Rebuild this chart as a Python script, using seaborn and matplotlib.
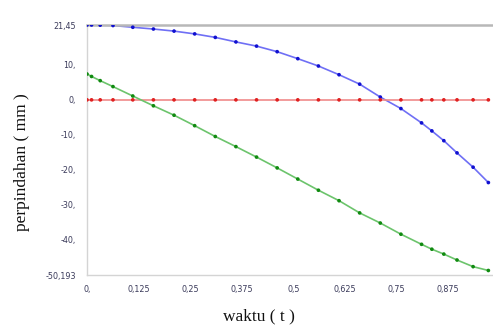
import numpy as np
import pandas as pd
import matplotlib
matplotlib.use("Agg")
import matplotlib.pyplot as plt
import seaborn as sns

t = [0.0, 0.011, 0.032, 0.063, 0.111, 0.161, 0.211, 0.261, 0.311, 0.361, 0.411, 0.461,
     0.511, 0.561, 0.611, 0.661, 0.711, 0.761, 0.811, 0.836, 0.865, 0.897, 0.936, 0.973]
blue = [21.45, 21.45, 21.4, 21.3, 20.8, 20.3, 19.7, 18.9, 17.9, 16.6, 15.4, 13.8,
        11.8, 9.7, 7.2, 4.5, 0.8, -2.5, -6.6, -8.9, -11.7, -15.2, -19.3, -23.7]
red = [0.0] * len(t)
green = [7.4, 6.7, 5.5, 3.8, 1.1, -1.7, -4.4, -7.4, -10.5, -13.4, -16.4, -19.5,
         -22.7, -25.9, -28.9, -32.4, -35.3, -38.5, -41.4, -42.8, -44.2, -45.9, -47.8, -48.9]

yticks = [21.45, 10, 0, -10, -20, -30, -40, -50.193]
ytick_labels = ["21,45", "10,", "0,", "-10,", "-20,", "-30,", "-40,", "-50,193"]
xticks = [0, 0.125, 0.25, 0.375, 0.5, 0.625, 0.75, 0.875, 1.0]
xtick_labels = ["0,", "0,125", "0,25", "0,375", "0,5", "0,625", "0,75", "0,875", "1,"]

df = pd.concat([
    pd.DataFrame({"t": t, "v": blue, "s": "blue"}),
    pd.DataFrame({"t": t, "v": red, "s": "red"}),
    pd.DataFrame({"t": t, "v": green, "s": "green"}),
])

sns.set_style("white")
fig = plt.figure(figsize=(4.93, 3.27), dpi=100)
W, H = 493, 327
ax = fig.add_axes([87 / W, (H - 275) / H, (499.5 - 87) / W, 250 / H])

line_pal = {"blue": "#6f6ff5", "red": "#f08a8a", "green": "#6cc46c"}
dot_pal = {"blue": "#1010d0", "red": "#e02020", "green": "#108a10"}
sns.lineplot(data=df, x="t", y="v", hue="s", palette=line_pal, linewidth=1.2,
             legend=False, ax=ax, estimator=None, sort=True)
sns.scatterplot(data=df, x="t", y="v", hue="s", palette=dot_pal, s=7,
                linewidth=0, legend=False, ax=ax, zorder=5)

ax.set_xlim(0, 1)
ax.set_ylim(-50.193, 21.45)
ax.set_xticks(xticks)
ax.set_xticklabels(xtick_labels)
ax.set_yticks(yticks)
ax.set_yticklabels(ytick_labels)
ax.tick_params(axis="both", labelsize=5.8, colors="#b8b8b8", labelcolor="#3a3a5a",
               length=3, width=0.8, direction="out")
ax.tick_params(axis="y", pad=5)
ax.tick_params(axis="x", pad=4)
for side in ["left", "bottom"]:
    ax.spines[side].set_color("#d4d4d4")
    ax.spines[side].set_linewidth(1.0)
ax.spines["right"].set_visible(False)
ax.spines["top"].set_color("#b8b8b8")
ax.spines["top"].set_linewidth(1.8)
ax.grid(False)
ax.set_xlabel("")
ax.set_ylabel("")

fig.text(259 / W, 1 - 316 / H, "waktu ( t )", family="Liberation Serif", fontsize=12.5,
         ha="center", va="center", color="#111111")
fig.text(22 / W, 1 - 162 / H, "perpindahan ( mm )", family="Liberation Serif", fontsize=12.5,
         ha="center", va="center", rotation=90, color="#111111")

fig.savefig("out.png", dpi=100)
